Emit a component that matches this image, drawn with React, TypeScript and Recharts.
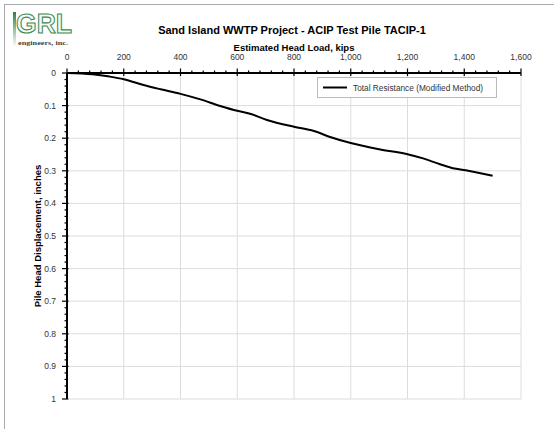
import React from 'react';
import { LineChart, Line, XAxis, YAxis, ReferenceLine, Legend } from 'recharts';

const loads = [0, 90, 150, 200, 270, 330, 400, 470, 540, 600, 645, 705, 800, 870, 930, 1000, 1100, 1200, 1255, 1315, 1360, 1405, 1500];
const displacement = [0, 0.004, 0.011, 0.019, 0.037, 0.05, 0.064, 0.081, 0.101, 0.116, 0.125, 0.144, 0.165, 0.178, 0.197, 0.215, 0.234, 0.249, 0.262, 0.28, 0.292, 0.298, 0.315];

const xMajorTicks = [0, 200, 400, 600, 800, 1000, 1200, 1400, 1600];
const yMajorTicks = [0, 0.1, 0.2, 0.3, 0.4, 0.5, 0.6, 0.7, 0.8, 0.9, 1];
const xMinorStep = 40;
const yMinorStep = 0.02;
const xAllTicks = Array.from({ length: 1600 / xMinorStep + 1 }, (_, i) => i * xMinorStep);
const yAllTicks = Array.from({ length: Math.round(1 / yMinorStep) + 1 }, (_, i) => +(i * yMinorStep).toFixed(2));

const seriesName = 'Total Resistance (Modified Method)';
const chartTitle = 'Sand Island WWTP Project - ACIP Test Pile TACIP-1';
const xTitle = 'Estimated Head Load, kips';
const yTitle = 'Pile Head Displacement, inches';

const data = loads.map((l, i) => ({ load: l, disp: displacement[i] }));

const FONT = '"Liberation Sans", Arial, sans-serif';

const isMajorX = (v: number) => xMajorTicks.some((t) => Math.abs(t - v) < 1e-6);
const isMajorY = (v: number) => yMajorTicks.some((t) => Math.abs(t - v) < 1e-6);

const XTick = (props: any) => {
  const { x, y, payload } = props;
  const v = payload.value;
  const major = isMajorX(v);
  return (
    <g>
      <line x1={x} x2={x} y1={y} y2={y - (major ? 4.5 : 2.5)} stroke="#000" strokeWidth={1.2} />
      {major && <line x1={x} x2={x} y1={y} y2={y + 3} stroke="#000" strokeWidth={1.2} />}
      {major && (
        <text x={x} y={y - 13} textAnchor="middle" fontSize={8.5} fill="#333" fontFamily={FONT}>
          {v.toLocaleString('en-US')}
        </text>
      )}
    </g>
  );
};

const YTick = (props: any) => {
  const { x, y, payload } = props;
  const v = payload.value;
  const major = isMajorY(v);
  return (
    <g>
      <line x1={x - (major ? 5 : 2.5)} x2={x} y1={y} y2={y} stroke="#000" strokeWidth={1.2} />
      {major && <line x1={x} x2={x + 1.5} y1={y} y2={y} stroke="#000" strokeWidth={1.2} />}
      {major && (
        <text x={x - 11} y={y + 3} textAnchor="end" fontSize={8.5} fill="#333" fontFamily={FONT}>
          {String(v)}
        </text>
      )}
    </g>
  );
};

const LegendBox = () => (
  <div
    style={{
      width: 180,
      height: 21,
      boxSizing: 'border-box',
      border: '1px solid #bbb',
      background: '#fff',
      position: 'relative',
      fontFamily: FONT,
    }}
  >
    <svg width={180} height={21} style={{ position: 'absolute', left: -1, top: -1 }}>
      <line x1={6} x2={30} y1={10.5} y2={10.5} stroke="#000" strokeWidth={2} />
      <text x={36} y={13.5} fontSize={8.3} fill="#333" fontFamily={FONT}>
        {seriesName}
      </text>
    </svg>
  </div>
);

export default function App() {
  return (
    <div style={{ position: 'absolute', left: 0, top: 0, width: 554, height: 429, background: '#fff', fontFamily: FONT }}>
      <LineChart width={554} height={429} data={data} margin={{ top: 53, left: 37, right: 33, bottom: 30 }}>
        {xMajorTicks.slice(1).map((v) => (
          <ReferenceLine key={'vx' + v} x={v} stroke="#dcdcdc" strokeWidth={1} />
        ))}
        {yMajorTicks.slice(1).map((v) => (
          <ReferenceLine key={'hy' + v} y={v} stroke="#dcdcdc" strokeWidth={1} />
        ))}
        <XAxis
          dataKey="load"
          type="number"
          orientation="top"
          domain={[0, 1600]}
          ticks={xAllTicks}
          interval={0}
          tickSize={0}
          tickMargin={0}
          tickLine={false}
          axisLine={{ stroke: '#000', strokeWidth: 2 }}
          height={20}
          tick={<XTick />}
          allowDataOverflow
        />
        <YAxis
          type="number"
          domain={[0, 1]}
          reversed
          ticks={yAllTicks}
          interval={0}
          tickSize={0}
          tickMargin={0}
          tickLine={false}
          axisLine={{ stroke: '#000', strokeWidth: 2 }}
          width={30}
          tick={<YTick />}
          allowDataOverflow
        />
        <Legend
          layout="horizontal"
          verticalAlign="middle"
          align="center"
          content={() => <LegendBox />}
          wrapperStyle={{ position: 'absolute', left: 317, top: 77, width: 180, height: 21 }}
        />
        <Line
          type="monotone"
          dataKey="disp"
          name={seriesName}
          stroke="#000"
          strokeWidth={2}
          dot={false}
          isAnimationActive={false}
        />
      </LineChart>
      <svg width={554} height={429} style={{ position: 'absolute', left: 0, top: 0, pointerEvents: 'none' }}>
        <line x1={4} x2={554} y1={4.5} y2={4.5} stroke="#aaa" strokeWidth={1} />
        <line x1={4.5} x2={4.5} y1={4} y2={429} stroke="#aaa" strokeWidth={1} />
        <defs>
          <linearGradient id="grlbar" x1="0" y1="0" x2="0" y2="1">
            <stop offset="0" stopColor="#2f7f45" />
            <stop offset="1" stopColor="#ffffff" />
          </linearGradient>
        </defs>
        <rect x={13} y={12} width={3} height={35} fill="url(#grlbar)" />
        <text
          x={16}
          y={33}
          fontSize={28}
          fontWeight="bold"
          fontFamily={FONT}
          fill="#f4faf4"
          stroke="#3d8a55"
          strokeWidth={1.1}
          textLength={56}
          lengthAdjust="spacingAndGlyphs"
        >
          GRL
        </text>
        <text x={18} y={45} fontSize={6.5} fontWeight="bold" fontFamily='"Liberation Serif", serif' fill="#444" textLength={50} lengthAdjust="spacingAndGlyphs">
          engineers, inc.
        </text>
        <text x={292} y={34} textAnchor="middle" fontSize={11} fontWeight="bold" fontFamily={FONT} fill="#000">
          {chartTitle}
        </text>
        <text x={294} y={51} textAnchor="middle" fontSize={9.5} fontWeight="bold" fontFamily={FONT} fill="#000">
          {xTitle}
        </text>
        <text
          x={0}
          y={0}
          transform="translate(41,236) rotate(-90)"
          textAnchor="middle"
          fontSize={9.5}
          fontWeight="bold"
          fontFamily={FONT}
          fill="#000"
        >
          {yTitle}
        </text>
      </svg>
    </div>
  );
}
